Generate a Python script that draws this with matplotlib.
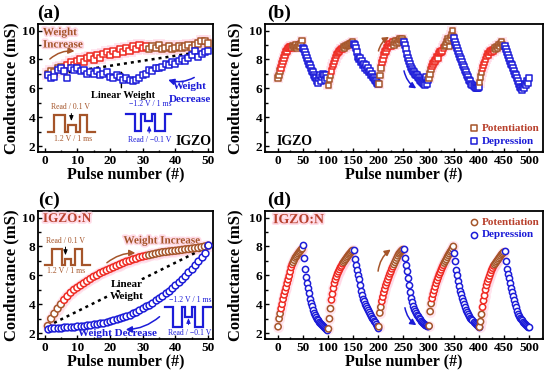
import matplotlib
matplotlib.use("Agg")
import matplotlib.pyplot as plt
import matplotlib.patheffects as pe
from matplotlib.ticker import MultipleLocator
import numpy as np

plt.rcParams['font.family'] = ['Liberation Serif', 'DejaVu Serif']
plt.rcParams['font.weight'] = 'bold'
plt.rcParams['axes.labelweight'] = 'bold'

# ---------------- data ----------------
# (a) IGZO, 50 pulses
pulse_a = np.arange(1, 51)
pot_a = [7.0, 7.2, 7.1, 7.4, 7.5, 7.3, 7.6, 7.8, 7.6, 7.9,
         8.0, 7.8, 8.1, 8.2, 8.0, 8.3, 8.1, 8.4, 8.5, 8.3,
         8.6, 8.4, 8.7, 8.5, 8.8, 8.6, 8.9, 8.7, 9.0, 8.8,
         8.9, 8.7, 8.9, 8.8, 9.0, 8.7, 8.8, 8.9, 8.7, 8.8,
         8.9, 8.8, 8.9, 9.0, 8.8, 9.0, 9.1, 9.3, 9.3, 9.1]
dep_a = [6.9, 6.7, 6.8, 7.3, 7.4, 7.2, 6.7, 7.4, 7.3, 7.4,
         7.2, 7.3, 7.0, 7.1, 7.0, 7.2, 6.9, 7.0, 7.1, 6.8,
         6.7, 6.9, 6.8, 6.6, 6.7, 6.6, 6.5, 6.6, 6.7, 6.9,
         7.0, 7.3, 7.2, 7.4, 7.4, 7.5, 7.7, 7.6, 7.8, 7.7,
         7.9, 8.0, 7.9, 8.1, 8.3, 8.6, 8.2, 8.4, 8.5, 8.6]
lin_x = [1, 50]
lin_a = [6.9, 8.6]

# (c) IGZO:N, 50 pulses
pulse_c = np.arange(1, 51)
pot_c = [2.5, 3.0, 3.35, 3.7, 4.0, 4.3, 4.55, 4.8, 5.0, 5.15,
         5.3, 5.45, 5.6, 5.75, 5.9, 6.0, 6.15, 6.25, 6.35, 6.45,
         6.55, 6.65, 6.75, 6.85, 6.95, 7.0, 7.1, 7.15, 7.25, 7.3,
         7.35, 7.4, 7.45, 7.5, 7.55, 7.6, 7.62, 7.65, 7.68, 7.7,
         7.73, 7.76, 7.8, 7.82, 7.85, 7.88, 7.9, 7.95, 8.0, 8.05]
dep_c = [2.3, 2.33, 2.35, 2.37, 2.38, 2.4, 2.42, 2.44, 2.46, 2.48,
         2.5, 2.53, 2.56, 2.59, 2.62, 2.66, 2.7, 2.74, 2.79, 2.84,
         2.9, 2.96, 3.03, 3.1, 3.18, 3.27, 3.37, 3.48, 3.6, 3.72,
         3.85, 3.98, 4.12, 4.27, 4.42, 4.58, 4.75, 4.93, 5.12, 5.32,
         5.53, 5.75, 5.98, 6.22, 6.47, 6.73, 7.0, 7.28, 7.56, 8.1]
lin_c = [2.5, 8.0]

# (b) IGZO, 5 cycles, every second pulse
cycles_b_pot = [
    [6.7, 6.9, 7.2, 7.4, 7.7, 7.9, 8.1, 8.3, 8.5, 8.6, 8.75, 8.8, 8.85,
     8.9, 8.8, 8.95, 8.85, 8.9, 9.0, 8.8, 8.9, 9.0, 8.9, 9.1, 9.3],
    [6.2, 6.6, 6.9, 7.2, 7.5, 7.7, 7.9, 8.1, 8.3, 8.4, 8.5, 8.6, 8.7,
     8.75, 8.7, 8.85, 8.8, 8.95, 8.9, 9.0, 8.95, 9.05, 9.1, 9.15, 9.2],
    [6.3, 6.9, 7.4, 7.8, 8.0, 8.3, 8.5, 8.6, 8.8, 8.9, 9.0, 9.1, 8.9,
     9.1, 9.2, 9.0, 9.2, 9.3, 9.1, 9.3, 9.2, 9.4, 9.3, 9.4, 9.3],
    [6.7, 7.0, 7.3, 7.5, 7.7, 7.8, 7.9, 8.0, 8.2, 8.1, 8.4, 8.5, 8.5,
     8.6, 8.8, 8.9, 9.0, 9.2, 9.4, 9.3, 8.9, 9.5, 9.7, 10.0, 9.6],
    [6.4, 6.8, 7.1, 7.4, 7.6, 7.8, 8.0, 8.2, 8.4, 8.3, 8.5, 8.6, 8.5,
     8.7, 8.6, 8.8, 8.7, 8.9, 8.8, 9.0, 8.9, 9.1, 9.2, 9.0, 8.9],
]
cycles_b_dep = [
    [8.8, 8.7, 8.5, 8.3, 8.1, 7.9, 7.7, 7.6, 7.4, 7.2, 7.1, 6.9, 6.8,
     6.7, 6.5, 6.4, 6.7, 6.9, 6.5, 6.8, 7.0, 6.9, 6.6, 6.9, 6.7],
    [9.1, 9.0, 8.8, 8.5, 8.2, 8.0, 8.1, 7.8, 7.9, 7.6, 7.7, 7.4, 7.6,
     7.3, 7.4, 7.1, 7.2, 6.9, 7.0, 6.8, 6.7, 6.6, 6.5, 6.4, 6.3],
    [9.2, 9.0, 8.7, 8.4, 8.1, 7.9, 7.7, 7.5, 7.35, 7.2, 7.1, 7.0, 6.9,
     6.95, 6.8, 6.7, 6.6, 6.5, 6.45, 6.35, 6.3, 6.25, 6.8, 6.3, 6.6],
    [9.5, 9.2, 9.0, 8.8, 8.6, 8.4, 8.2, 8.0, 7.8, 7.6, 7.5, 7.3, 7.1,
     6.9, 6.8, 6.6, 6.5, 6.3, 6.2, 6.15, 6.1, 6.0, 6.0, 6.05, 6.1],
    [8.9, 8.7, 8.5, 8.3, 8.1, 7.9, 7.7, 7.6, 7.4, 7.2, 7.0, 6.9, 6.7,
     6.5, 6.3, 6.1, 6.0, 5.9, 6.1, 6.0, 6.3, 6.2, 6.5, 6.4, 6.7],
]

# (d) IGZO:N, 5 cycles, every second pulse
cycles_d_pot = [
    [2.45, 3.0, 3.35, 3.7, 4.0, 4.35, 4.65, 4.9, 5.15, 5.45, 5.7, 5.95, 6.25,
     6.55, 6.75, 6.9, 7.05, 7.2, 7.3, 7.4, 7.5, 7.6, 7.68, 7.78, 7.85],
    [2.3, 3.0, 3.7, 4.3, 4.7, 5.1, 5.45, 5.7, 5.9, 6.1, 6.25, 6.4, 6.55,
     6.65, 6.8, 6.9, 7.0, 7.1, 7.2, 7.3, 7.4, 7.48, 7.56, 7.65, 7.72],
    [2.45, 3.4, 3.8, 4.2, 4.5, 4.8, 5.05, 5.3, 5.5, 5.7, 5.9, 6.1, 6.25,
     6.45, 6.6, 6.75, 6.9, 7.05, 7.2, 7.35, 7.48, 7.56, 7.65, 7.72, 7.78],
    [2.5, 3.5, 4.05, 4.4, 4.7, 4.95, 5.2, 5.45, 5.65, 5.85, 6.05, 6.2, 6.38,
     6.55, 6.7, 6.85, 6.98, 7.1, 7.25, 7.38, 7.5, 7.62, 7.72, 7.85, 8.0],
    [2.42, 2.8, 3.3, 3.8, 4.25, 4.6, 5.0, 5.3, 5.55, 5.75, 5.95, 6.15, 6.35,
     6.5, 6.65, 6.75, 6.85, 6.95, 7.05, 7.15, 7.25, 7.35, 7.45, 7.52, 7.6],
]
cycles_d_dep = [
    [8.1, 7.2, 6.45, 5.9, 5.45, 5.1, 4.75, 4.4, 4.1, 3.85, 3.6, 3.4, 3.25,
     3.12, 3.0, 2.9, 2.8, 2.72, 2.64, 2.58, 2.5, 2.44, 2.38, 2.32, 2.25],
    [7.75, 7.1, 6.7, 6.35, 6.05, 5.75, 5.35, 4.95, 4.65, 4.4, 4.2, 4.05, 3.9,
     3.75, 3.6, 3.45, 3.32, 3.2, 3.08, 2.96, 2.85, 2.75, 2.62, 2.5, 2.35],
    [7.8, 7.2, 6.75, 6.3, 5.8, 5.3, 4.85, 4.45, 4.15, 3.9, 3.7, 3.55, 3.4,
     3.28, 3.16, 3.05, 2.95, 2.86, 2.78, 2.7, 2.64, 2.58, 2.54, 2.5, 2.47],
    [7.55, 7.0, 6.4, 6.0, 5.6, 5.25, 4.95, 4.7, 4.45, 4.2, 4.0, 3.8, 3.62,
     3.46, 3.32, 3.2, 3.08, 2.98, 2.88, 2.78, 2.7, 2.62, 2.55, 2.48, 2.42],
    [7.65, 7.0, 6.45, 6.1, 5.8, 5.45, 5.15, 4.85, 4.55, 4.3, 4.05, 3.8, 3.55,
     3.35, 3.2, 3.08, 2.96, 2.88, 2.8, 2.72, 2.65, 2.58, 2.52, 2.46, 2.4],
]

BROWN = '#a5552a'
RED = '#ee2a22'
BLUE = '#1c1cd8'
PINK = '#ffcfe0'
TXT_RED = '#b8402c'


def pot_colors(n):
    # brown at the ends, red in the middle of each potentiation run
    out = []
    for i in range(n):
        f = i / (n - 1)
        out.append(RED if 0.1 < f < 0.62 else BROWN)
    return out


def draw_pot(ax, x, y, marker, s, halo=True):
    if halo:
        ax.scatter(x, y, marker=marker, s=s * 3.2, color=PINK, alpha=0.5,
                   linewidths=0, zorder=2)
    ax.scatter(x, y, marker=marker, s=s, facecolors='white',
               edgecolors=pot_colors(len(y)), linewidths=1.1, zorder=4)


def draw_dep(ax, x, y, marker, s):
    ax.scatter(x, y, marker=marker, s=s, facecolors='white',
               edgecolors=BLUE, linewidths=1.1, zorder=4)


def style_axes(ax, xmax_major, xminor, xlim):
    ax.set_xlim(*xlim)
    ax.set_ylim(1.6, 10.45)
    ax.xaxis.set_major_locator(MultipleLocator(xmax_major))
    ax.xaxis.set_minor_locator(MultipleLocator(xminor))
    ax.yaxis.set_major_locator(MultipleLocator(2))
    ax.yaxis.set_minor_locator(MultipleLocator(1))
    ax.tick_params(which='both', direction='in', top=False, right=False,
                   labelsize=9.5, width=1.0, pad=2)
    ax.tick_params(which='major', length=3)
    ax.tick_params(which='minor', length=1.8)
    for sp in ax.spines.values():
        sp.set_linewidth(1.3)
    ax.set_xlabel('Pulse number (#)', fontsize=11.5, labelpad=0)
    ax.set_ylabel('Conductance (mS)', fontsize=12, labelpad=2)


def waveform(ax, x0, x1, base, peak, read, edges, color):
    # square-pulse sketch: edges are fractions where level switches
    levels = [base, peak, base, read, base, peak, base]
    xs, ys = [x0], [base]
    pts = [0] + edges + [1]
    for k in range(len(pts) - 1):
        xa = x0 + (x1 - x0) * pts[k]
        xb = x0 + (x1 - x0) * pts[k + 1]
        xs += [xa, xb]
        ys += [levels[k], levels[k]]
    ax.plot(xs, ys, color=color, lw=1.6, zorder=5, solid_joinstyle='miter')


glow = [pe.withStroke(linewidth=2.5, foreground='#ffdbe7')]
small = dict(fontsize=5.6, fontweight='normal', ha='center', va='center', zorder=6)

fig = plt.figure(figsize=(5.5, 3.74), dpi=100)
H = 128 / 374
ax_a = fig.add_axes([38 / 550, 1 - 152 / 374, 175 / 550, H])
ax_b = fig.add_axes([265 / 550, 1 - 152 / 374, 278 / 550, H])
ax_c = fig.add_axes([38 / 550, 1 - 339 / 374, 175 / 550, H])
ax_d = fig.add_axes([265 / 550, 1 - 339 / 374, 278 / 550, H])

# ---------------- (a) ----------------
ax = ax_a
ax.plot(lin_x, lin_a, ls=(0, (1.2, 1.6)), color='black', lw=1.8, zorder=3)
draw_pot(ax, pulse_a, pot_a, 's', 20)
draw_dep(ax, pulse_a, dep_a, 's', 20)
style_axes(ax, 10, 5, (-2, 51.5))
ax.text(-0.5, 9.85, 'Weight', color=BROWN, fontsize=8, ha='left', va='center', path_effects=glow)
ax.text(-0.5, 9.0, 'Increase', color=BROWN, fontsize=8, ha='left', va='center', path_effects=glow)
ax.annotate('', xy=(10, 8.55), xytext=(1, 7.9),
            arrowprops=dict(arrowstyle='-|>,head_length=0.35,head_width=0.18', color=BROWN,
                            lw=1.1, connectionstyle='arc3,rad=-0.25'))
ax.text(24, 5.5, 'Linear Weight', color='black', fontsize=7.5, ha='center', va='center', zorder=6)
ax.annotate('', xy=(23.5, 7.4), xytext=(23.5, 5.85),
            arrowprops=dict(arrowstyle='-|>,head_length=0.35,head_width=0.18', color='black', lw=1.0))
ax.text(44.5, 6.1, 'Weight', color=BLUE, fontsize=8, ha='center', va='center')
ax.text(44.5, 5.25, 'Decrease', color=BLUE, fontsize=8, ha='center', va='center')
ax.annotate('', xy=(37, 6.65), xytext=(46.5, 6.85),
            arrowprops=dict(arrowstyle='-|>,head_length=0.35,head_width=0.18', color=BLUE,
                            lw=1.1, connectionstyle='arc3,rad=-0.25'))
waveform(ax, 1.0, 15.3, 3.0, 4.18, 3.5, [0.14, 0.36, 0.43, 0.61, 0.68, 0.84], BROWN)
ax.text(7.8, 4.7, 'Read / 0.1 V', color=BROWN, **small)
ax.text(8.6, 2.47, '1.2 V / 1 ms', color=BROWN, **small)
ax.annotate('', xy=(8.2, 3.55), xytext=(8.2, 4.45),
            arrowprops=dict(arrowstyle='-|>,head_length=0.3,head_width=0.12', color='black', lw=0.7))
waveform(ax, 25.0, 38.8, 4.23, 3.08, 3.72, [0.185, 0.33, 0.41, 0.56, 0.63, 0.85], BLUE)
ax.text(32.2, 4.92, '\u22121.2 V / 1 ms', color=BLUE, **small)
ax.text(32.0, 2.4, 'Read / \u22120.1 V', color=BLUE, **small)
ax.annotate('', xy=(32.0, 3.62), xytext=(32.0, 2.72),
            arrowprops=dict(arrowstyle='-|>,head_length=0.3,head_width=0.12', color=BLUE, lw=0.7))
ax.text(51, 2.35, 'IGZO', color='black', fontsize=10, ha='right', va='center')

# ---------------- (b) ----------------
ax = ax_b
for k in range(5):
    xp = np.arange(100 * k + 1, 100 * k + 50, 2)
    xd = np.arange(100 * k + 51, 100 * k + 100, 2)
    draw_pot(ax, xp, cycles_b_pot[k], 's', 16)
    draw_dep(ax, xd, cycles_b_dep[k], 's', 16)
style_axes(ax, 50, 25, (-25, 527))
ax.yaxis.set_label_coords(-0.078, 0.5)
ax.text(-3, 2.33, 'IGZO', color='black', fontsize=10, ha='left', va='center')
ax.annotate('', xy=(226, 9.65), xytext=(199, 8.4),
            arrowprops=dict(arrowstyle='-|>,head_length=0.35,head_width=0.18', color=BROWN,
                            lw=1.1, connectionstyle='arc3,rad=-0.25'))
ax.annotate('', xy=(280, 5.9), xytext=(250, 7.4),
            arrowprops=dict(arrowstyle='-|>,head_length=0.35,head_width=0.18', color=BLUE,
                            lw=1.1, connectionstyle='arc3,rad=0.25'))
hp = ax.scatter([], [], marker='s', s=16, facecolors='white', edgecolors=BROWN, linewidths=1.1)
hd = ax.scatter([], [], marker='s', s=16, facecolors='white', edgecolors=BLUE, linewidths=1.1)
leg = ax.legend([hp, hd], ['Potentiation', 'Depression'], loc='lower right', frameon=False,
                fontsize=8, handletextpad=0.1, labelspacing=0.25, borderaxespad=0.15,
                handlelength=1.2, bbox_to_anchor=(1.01, 0.0))
leg.get_texts()[0].set_color(TXT_RED)
leg.get_texts()[1].set_color(BLUE)

# ---------------- (c) ----------------
ax = ax_c
ax.plot(lin_x, lin_c, ls=(0, (1.2, 1.6)), color='black', lw=1.8, zorder=3)
draw_pot(ax, pulse_c, pot_c, 'o', 24)
draw_dep(ax, pulse_c, dep_c, 'o', 24)
style_axes(ax, 10, 5, (-2, 51.5))
ax.text(-0.5, 9.9, 'IGZO:N', color=TXT_RED, fontsize=9.5, ha='left', va='center', path_effects=glow)
waveform(ax, 0.2, 13.8, 6.73, 7.82, 7.12, [0.15, 0.37, 0.44, 0.59, 0.67, 0.83], BROWN)
ax.text(6.5, 8.35, 'Read / 0.1 V', color=BROWN, **small)
ax.text(6.5, 6.27, '1.2 V / 1 ms', color=BROWN, **small)
ax.annotate('', xy=(6.4, 7.2), xytext=(6.4, 8.15),
            arrowprops=dict(arrowstyle='-|>,head_length=0.3,head_width=0.12', color='black', lw=0.7))
ax.text(35.8, 8.38, 'Weight Increase', color=BROWN, fontsize=8, ha='center', va='center', path_effects=glow)
ax.annotate('', xy=(28.6, 7.55), xytext=(18.4, 6.75),
            arrowprops=dict(arrowstyle='-|>,head_length=0.35,head_width=0.18', color=BROWN,
                            lw=1.1, connectionstyle='arc3,rad=-0.2'))
ax.text(25, 5.35, 'Linear', color='black', fontsize=8, ha='center', va='center', zorder=6,
        bbox=dict(facecolor='white', edgecolor='none', pad=0.3))
ax.text(25, 4.54, 'Weight', color='black', fontsize=8, ha='center', va='center', zorder=6,
        bbox=dict(facecolor='white', edgecolor='none', pad=0.3))
waveform(ax, 36.8, 51.0, 3.8, 2.46, 3.15, [0.17, 0.36, 0.43, 0.58, 0.65, 0.83], BLUE)
ax.text(44.5, 4.33, '\u22121.2 V / 1 ms', color=BLUE, **small)
ax.text(44.3, 2.04, 'Read / \u22120.1 V', color=BLUE, **small)
ax.annotate('', xy=(44.0, 3.25), xytext=(44.0, 2.4),
            arrowprops=dict(arrowstyle='-|>,head_length=0.3,head_width=0.12', color=BLUE, lw=0.7))
ax.text(22.2, 2.0, 'Weight Decrease', color=BLUE, fontsize=8, ha='center', va='center', zorder=6)
ax.annotate('', xy=(24, 2.25), xytext=(35.8, 3.27),
            arrowprops=dict(arrowstyle='-|>,head_length=0.35,head_width=0.18', color=BLUE,
                            lw=1.1, connectionstyle='arc3,rad=-0.2'))

# ---------------- (d) ----------------
ax = ax_d
for k in range(5):
    xp = np.arange(100 * k + 1, 100 * k + 50, 2)
    xd = np.arange(100 * k + 51, 100 * k + 100, 2)
    draw_pot(ax, xp, cycles_d_pot[k], 'o', 20)
    draw_dep(ax, xd, cycles_d_dep[k], 'o', 20)
style_axes(ax, 50, 25, (-25, 527))
ax.yaxis.set_label_coords(-0.078, 0.5)
ax.text(-9, 9.85, 'IGZO:N', color=TXT_RED, fontsize=10, ha='left', va='center', path_effects=glow)
ax.annotate('', xy=(229, 7.9), xytext=(199, 6.1),
            arrowprops=dict(arrowstyle='-|>,head_length=0.35,head_width=0.18', color=BROWN,
                            lw=1.1, connectionstyle='arc3,rad=-0.25'))
ax.annotate('', xy=(280, 2.45), xytext=(252, 3.95),
            arrowprops=dict(arrowstyle='-|>,head_length=0.35,head_width=0.18', color=BLUE,
                            lw=1.1, connectionstyle='arc3,rad=0.25'))
hp = ax.scatter([], [], marker='o', s=20, facecolors='white', edgecolors=BROWN, linewidths=1.1)
hd = ax.scatter([], [], marker='o', s=20, facecolors='white', edgecolors=BLUE, linewidths=1.1)
leg = ax.legend([hp, hd], ['Potentiation', 'Depression'], loc='upper right', frameon=False,
                fontsize=8, handletextpad=0.1, labelspacing=0.25, borderaxespad=0.15,
                handlelength=1.2, bbox_to_anchor=(1.01, 1.0))
leg.get_texts()[0].set_color(TXT_RED)
leg.get_texts()[1].set_color(BLUE)

# panel labels
for lab, x, y in [('(a)', 37, 13.5), ('(b)', 267, 13.5), ('(c)', 38, 200.5), ('(d)', 267, 200.5)]:
    fig.text(x / 550, 1 - y / 374, lab, fontsize=14, fontweight='bold', ha='left', va='center')

fig.savefig('out.png', dpi=100)
